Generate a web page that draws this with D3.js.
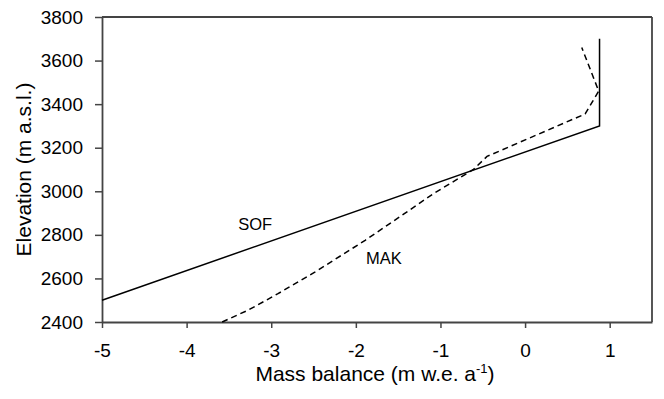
<!DOCTYPE html>
<html>
<head>
<meta charset="utf-8">
<script src="https://cdn.jsdelivr.net/npm/d3@7"></script>
<style>
  html, body { margin: 0; padding: 0; background: #fff; }
  svg { display: block; }
  text { font-family: "Liberation Sans", Arial, sans-serif; fill: #000; }
</style>
</head>
<body>
<svg id="chart" width="664" height="399"></svg>
<script>
// Data
const sofBalance = [-5, 0.88, 0.88];
const sofElevation = [2500, 3300, 3700];

const makBalance = [-3.58, -3.27, -2.92, -2.48, -1.89, -1.48, -1.08, -0.61, -0.45, 0.71, 0.87, 0.67];
const makElevation = [2400, 2455, 2530, 2630, 2775, 2883, 2990, 3100, 3160, 3355, 3460, 3660];

const xTicks = [-5, -4, -3, -2, -1, 0, 1];
const yTicks = [2400, 2600, 2800, 3000, 3200, 3400, 3600, 3800];
const xDomain = [-5, 1.5];
const yDomain = [2400, 3800];

const labels = [
  { text: "SOF", x: -3.39, y: 2822 },
  { text: "MAK", x: -1.88, y: 2666 }
];

// Layout
const svg = d3.select("#chart");
const x = d3.scaleLinear().domain(xDomain).range([102, 652]);
const y = d3.scaleLinear().domain(yDomain).range([322, 17]);

const axisColor = "#444";

// Axes
const gx = svg.append("g").attr("transform", `translate(0,${y(2400)})`)
  .call(d3.axisBottom(x).tickValues(xTicks).tickSize(6).tickPadding(16).tickSizeOuter(0)
    .tickFormat(d => d < 0 ? "-" + Math.abs(d) : String(d)));
const gy = svg.append("g").attr("transform", `translate(${x(-5)},0)`)
  .call(d3.axisLeft(y).tickValues(yTicks).tickSize(7).tickPadding(12).tickSizeOuter(0)
    .tickFormat(d3.format("d")));

[gx, gy].forEach(g => {
  g.select(".domain").attr("stroke", axisColor).attr("stroke-width", 1.8);
  g.selectAll(".tick line").attr("stroke", axisColor).attr("stroke-width", 1.5);
  g.selectAll(".tick text").attr("font-size", 19).attr("fill", "#000")
    .attr("font-family", "'Liberation Sans', Arial, sans-serif");
});

// Top and right frame
svg.append("line").attr("x1", x(xDomain[0])).attr("x2", x(xDomain[1]))
  .attr("y1", y(yDomain[1])).attr("y2", y(yDomain[1]))
  .attr("stroke", axisColor).attr("stroke-width", 1.8);
svg.append("line").attr("x1", x(xDomain[1])).attr("x2", x(xDomain[1]))
  .attr("y1", y(yDomain[0])).attr("y2", y(yDomain[1]))
  .attr("stroke", axisColor).attr("stroke-width", 1.8);

// Lines
const line = d3.line().x(d => x(d[0])).y(d => y(d[1]));
svg.append("path")
  .datum(sofBalance.map((v, i) => [v, sofElevation[i]]))
  .attr("d", line).attr("fill", "none").attr("stroke", "#000").attr("stroke-width", 1.5);
svg.append("path")
  .datum(makBalance.map((v, i) => [v, makElevation[i]]))
  .attr("d", line).attr("fill", "none").attr("stroke", "#000").attr("stroke-width", 1.5)
  .attr("stroke-dasharray", "6,4");

// Series labels
svg.selectAll(".lbl").data(labels).enter().append("text")
  .attr("x", d => x(d.x)).attr("y", d => y(d.y))
  .attr("font-size", 16.5).text(d => d.text);

// Axis titles
const xt = svg.append("text")
  .attr("x", 375).attr("y", 381)
  .attr("text-anchor", "middle").attr("font-size", 21);
xt.append("tspan").text("Mass balance (m w.e. a");
xt.append("tspan").attr("font-size", 13).attr("dy", -8).text("-1");
xt.append("tspan").attr("dy", 8).text(")");

svg.append("text")
  .attr("transform", `translate(31,${(y(yDomain[0]) + y(yDomain[1])) / 2}) rotate(-90)`)
  .attr("text-anchor", "middle").attr("font-size", 21)
  .text("Elevation (m a.s.l.)");
</script>
</body>
</html>
